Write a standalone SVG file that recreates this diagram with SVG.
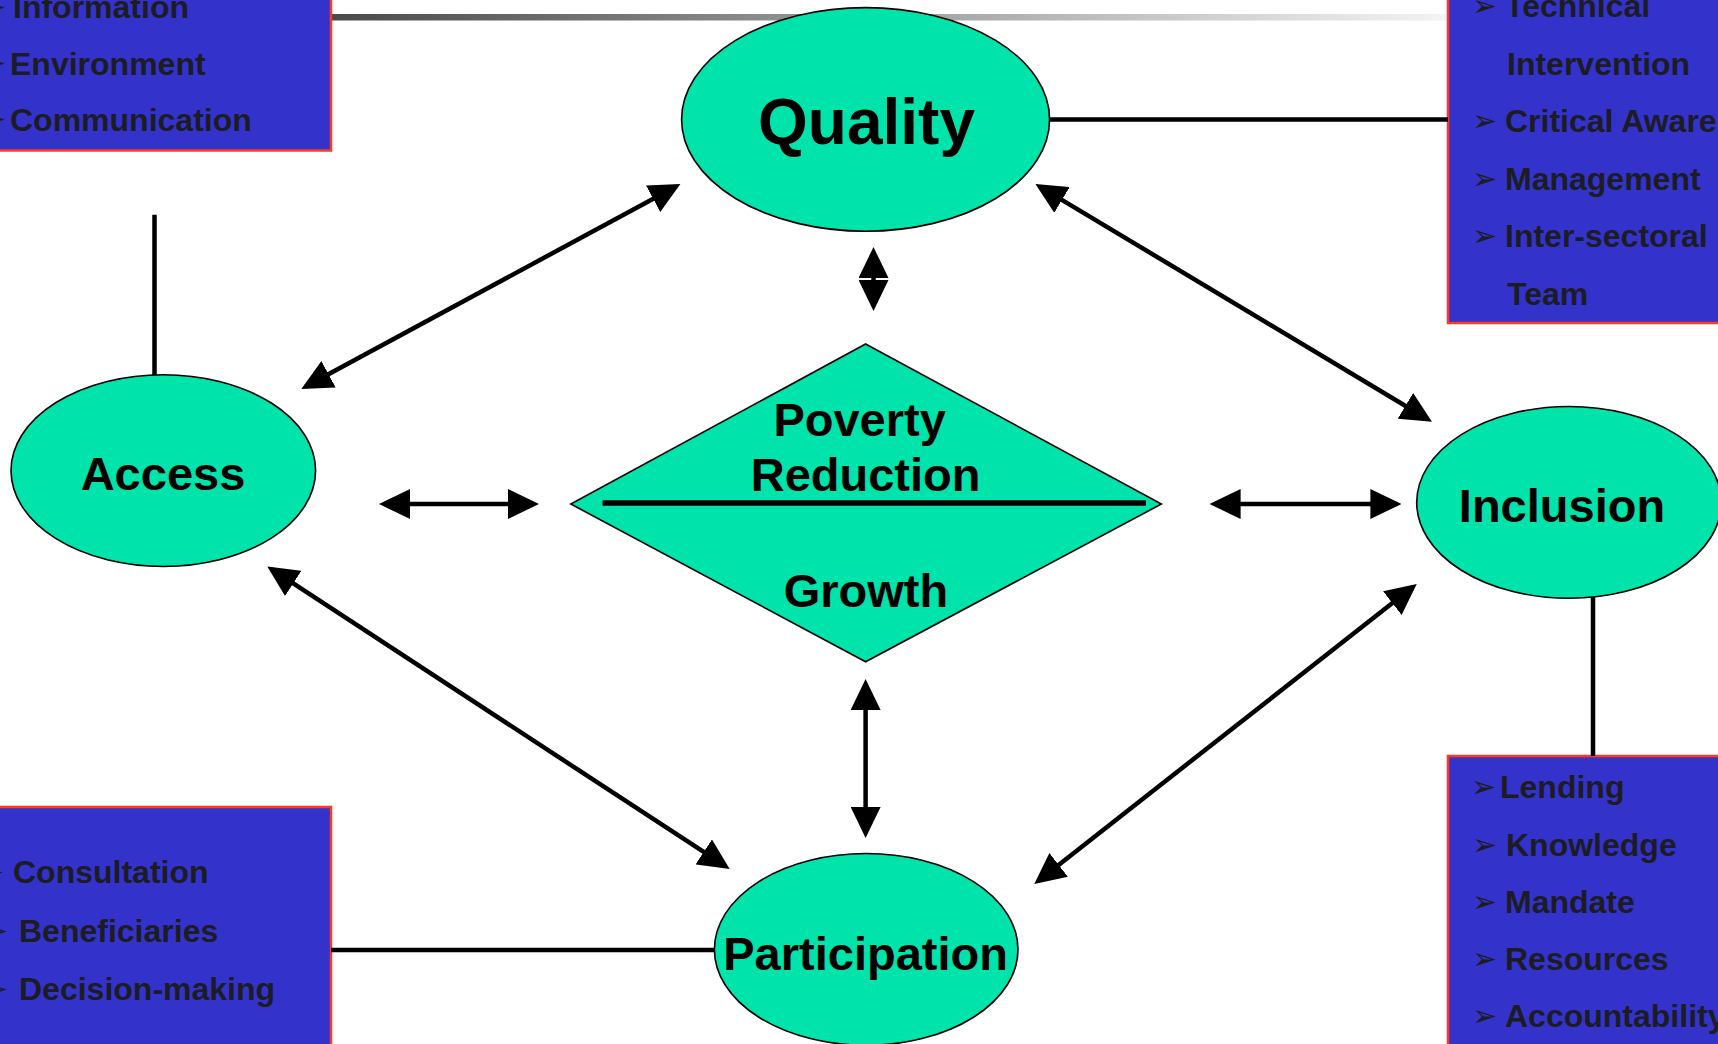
<svg xmlns="http://www.w3.org/2000/svg" width="1718" height="1044" viewBox="0 0 1718 1044">
<defs>
<linearGradient id="topGrad" x1="0" y1="0" x2="1" y2="0">
<stop offset="0" stop-color="#4a4a4a"/>
<stop offset="1" stop-color="#f4f4f4"/>
</linearGradient>
<marker id="ah" markerUnits="userSpaceOnUse" markerWidth="31" markerHeight="30" refX="26" refY="15" orient="auto-start-reverse" viewBox="0 0 31 30">
<path d="M0,0 L31,15 L0,30 z" fill="#000"/>
</marker>
<style>
.box{fill:#3333cc;stroke:#ff3a1a;stroke-width:2.5}
.bt{font-family:"Liberation Sans",Arial,sans-serif;font-weight:bold;font-size:32px;fill:#1c1c22}
.bl{font-family:"DejaVu Sans",sans-serif;font-size:30px;fill:#1c1c22}
.node{fill:#00e3aa;stroke:#000;stroke-width:1.6}
.nt{font-family:"Liberation Sans",Arial,sans-serif;font-weight:bold;font-size:47px;fill:#000;text-anchor:middle}
.arr{stroke:#000;stroke-width:4.5;fill:none;marker-start:url(#ah);marker-end:url(#ah)}
.ln{stroke:#000;stroke-width:4.5;fill:none}
</style>
</defs>
<rect width="1718" height="1044" fill="#fff"/>
<rect x="331" y="14" width="1117" height="6.5" fill="url(#topGrad)"/>

<g id="box-access">
<rect class="box" x="-10" y="-10" width="341" height="160.5"/>
<text class="bl" x="-19" y="17">➢</text>
<text class="bt" x="13" y="18">Information</text>
<text class="bl" x="-19" y="73">➢</text>
<text class="bt" x="10" y="74.5">Environment</text>
<text class="bl" x="-19" y="129">➢</text>
<text class="bt" x="10" y="130.5">Communication</text>
</g>

<g id="box-quality">
<rect class="box" x="1448" y="-10" width="290" height="333"/>
<text class="bl" x="1472" y="16">➢</text>
<text class="bt" x="1505" y="17">Technical</text>
<text class="bt" x="1507" y="75">Intervention</text>
<text class="bl" x="1472" y="131">➢</text>
<text class="bt" x="1505" y="132">Critical Aware</text>
<text class="bl" x="1472" y="189">➢</text>
<text class="bt" x="1505" y="190">Management</text>
<text class="bl" x="1472" y="246">➢</text>
<text class="bt" x="1505" y="247">Inter-sectoral</text>
<text class="bt" x="1507" y="305">Team</text>
</g>

<g id="box-participation">
<rect class="box" x="-10" y="807" width="341" height="250"/>
<text class="bl" x="-21" y="882">➢</text>
<text class="bt" x="13" y="883">Consultation</text>
<text class="bl" x="-17" y="941">➢</text>
<text class="bt" x="19" y="942">Beneficiaries</text>
<text class="bl" x="-17" y="999">➢</text>
<text class="bt" x="19" y="1000">Decision-making</text>
</g>

<g id="box-inclusion">
<rect class="box" x="1448" y="756" width="290" height="300"/>
<text class="bl" x="1471" y="797">➢</text>
<text class="bt" x="1500" y="798">Lending</text>
<text class="bl" x="1472" y="855">➢</text>
<text class="bt" x="1506" y="856">Knowledge</text>
<text class="bl" x="1472" y="912">➢</text>
<text class="bt" x="1505" y="913">Mandate</text>
<text class="bl" x="1472" y="969">➢</text>
<text class="bt" x="1505" y="970">Resources</text>
<text class="bl" x="1472" y="1026">➢</text>
<text class="bt" x="1505" y="1027">Accountability</text>
</g>

<g id="connectors">
<line class="ln" x1="154.5" y1="214.8" x2="154.5" y2="376"/>
<line class="ln" x1="1049" y1="119.4" x2="1448" y2="119.4"/>
<line class="ln" x1="1593" y1="597" x2="1593" y2="756"/>
<line class="ln" x1="331" y1="950" x2="715" y2="950"/>
<line class="arr" x1="305.7" y1="386.6" x2="676.0" y2="186.4"/>
<line class="arr" x1="1039.7" y1="186.6" x2="1427.7" y2="419.2"/>
<line class="arr" x1="271.5" y1="569.2" x2="725.5" y2="866.2"/>
<line class="arr" x1="1412.8" y1="587.1" x2="1038.2" y2="880.9"/>
<line class="arr" x1="384" y1="504" x2="534" y2="504"/>
<line class="arr" x1="1214.6" y1="504" x2="1396.4" y2="504"/>
<line class="arr" x1="865.6" y1="684" x2="865.6" y2="833"/>
<line class="arr" x1="873.5" y1="252" x2="873.5" y2="306"/>
</g>

<g id="quality">
<ellipse class="node" cx="865.6" cy="119.4" rx="184" ry="111.8"/>
<text class="nt" x="866.5" y="143.5" style="font-size:64px">Quality</text>
</g>

<g id="access">
<ellipse class="node" cx="163.3" cy="470.6" rx="152.3" ry="95.9"/>
<text class="nt" x="163" y="490">Access</text>
</g>

<g id="inclusion">
<ellipse class="node" cx="1569" cy="502.4" rx="152.3" ry="95.9"/>
<text class="nt" x="1562" y="521.5">Inclusion</text>
</g>

<g id="participation">
<ellipse class="node" cx="866.2" cy="949.4" rx="151.8" ry="95.9"/>
<text class="nt" x="865.6" y="970">Participation</text>
</g>

<g id="poverty-growth">
<polygon class="node" points="865.6,344 1161.4,504 865.6,661.8 570.8,504"/>
<line x1="602.6" y1="503" x2="1146" y2="503" stroke="#000" stroke-width="5.5"/>
<text class="nt" x="859.6" y="436">Poverty</text>
<text class="nt" x="865.6" y="491">Reduction</text>
<text class="nt" x="866" y="607">Growth</text>
</g>
</svg>
